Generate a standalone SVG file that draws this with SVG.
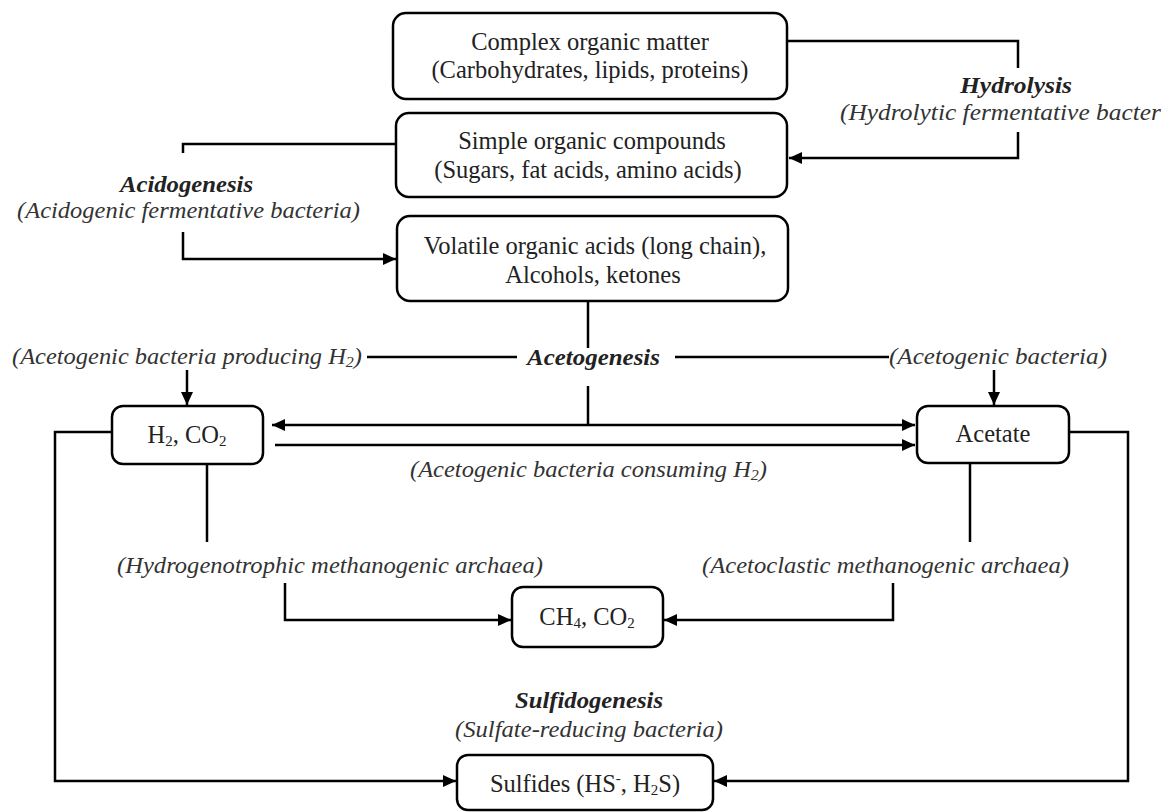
<svg xmlns="http://www.w3.org/2000/svg" width="1161" height="812" viewBox="0 0 1161 812">
<style>
.box{fill:#fff;stroke:#000;stroke-width:2.5}
.bt{font-family:"Liberation Serif","Times New Roman",serif;font-size:24.5px;fill:#222;text-anchor:middle}
.lb{font-family:"Liberation Serif","Times New Roman",serif;font-style:italic;font-size:23px;fill:#333}
.lbb{font-family:"Liberation Serif","Times New Roman",serif;font-style:italic;font-weight:bold;font-size:23px;fill:#222}
.sub{font-size:15px}
.ln{fill:none;stroke:#000;stroke-width:2.5}
.ar{marker-end:url(#ah)}
</style>
<defs>
<marker id="ah" markerUnits="userSpaceOnUse" markerWidth="14" markerHeight="12" refX="13" refY="6" orient="auto-start-reverse">
<path d="M0,0 L13,6 L0,12 z" fill="#000"/>
</marker>
</defs>
<g id="connectors">
<path class="ln" d="M787,41 H1018 V68"/>
<path class="ln ar" d="M1018,132 V158 H789"/>
<path class="ln" d="M396,144 H183 V153"/>
<path class="ln ar" d="M183,232 V259 H396"/>
<path class="ln" d="M588,301 V348"/>
<path class="ln" d="M588,386 V425"/>
<path class="ln" d="M367,357 H517"/>
<path class="ln" d="M675,357 H889"/>
<path class="ln ar" d="M187,370 V405"/>
<path class="ln ar" d="M994,370 V405"/>
<path class="ln ar" d="M272,425 H915" style="marker-start:url(#ah)"/>
<path class="ln ar" d="M275,445 H915"/>
<path class="ln" d="M207,464 V542"/>
<path class="ln ar" d="M285,583 V620 H511"/>
<path class="ln" d="M970,463 V542"/>
<path class="ln ar" d="M893,583 V620 H664"/>
<path class="ln ar" d="M112,432 H55 V781 H456"/>
<path class="ln ar" d="M1069,432 H1128 V781 H714"/>
</g>
<g id="n-complex">
<rect class="box" x="393" y="13" width="394" height="86" rx="13"/>
<text class="bt" x="590" y="50">Complex organic matter</text>
<text class="bt" x="590" y="78">(Carbohydrates, lipids, proteins)</text>
</g>
<g id="n-simple">
<rect class="box" x="396" y="113" width="391" height="84" rx="13"/>
<text class="bt" x="592" y="149">Simple organic compounds</text>
<text class="bt" x="588" y="178">(Sugars, fat acids, amino acids)</text>
</g>
<g id="n-volatile">
<rect class="box" x="397" y="216" width="391" height="85" rx="13"/>
<text class="bt" x="595" y="254">Volatile organic acids (long chain),</text>
<text class="bt" x="593" y="283">Alcohols, ketones</text>
</g>
<g id="n-h2">
<rect class="box" x="112" y="406" width="151" height="58" rx="11"/>
<text class="bt" x="187" y="443">H<tspan class="sub" dy="3">2</tspan><tspan dy="-3">, CO</tspan><tspan class="sub" dy="3">2</tspan></text>
</g>
<g id="n-acetate">
<rect class="box" x="917" y="406" width="152" height="57" rx="11"/>
<text class="bt" x="993" y="442">Acetate</text>
</g>
<g id="n-ch4">
<rect class="box" x="512" y="587" width="151" height="60" rx="11"/>
<text class="bt" x="587" y="625">CH<tspan class="sub" dy="3">4</tspan><tspan dy="-3">, CO</tspan><tspan class="sub" dy="3">2</tspan></text>
</g>
<g id="n-sulfides">
<rect class="box" x="457" y="755" width="256" height="55" rx="11"/>
<text class="bt" x="585" y="792">Sulfides (HS<tspan class="sub" dy="-9">-</tspan><tspan dy="9">, H</tspan><tspan class="sub" dy="3">2</tspan><tspan dy="-3">S)</tspan></text>
</g>
<g id="labels">
<text class="lbb" x="960" y="93" textLength="112" lengthAdjust="spacingAndGlyphs">Hydrolysis</text>
<text class="lb" x="840" y="120" textLength="321" lengthAdjust="spacingAndGlyphs">(Hydrolytic fermentative bacter</text>
<text class="lbb" x="120" y="192" textLength="133" lengthAdjust="spacingAndGlyphs">Acidogenesis</text>
<text class="lb" x="17" y="218" textLength="343" lengthAdjust="spacingAndGlyphs">(Acidogenic fermentative bacteria)</text>
<text class="lb" x="12" y="364" textLength="350" lengthAdjust="spacingAndGlyphs">(Acetogenic bacteria producing H<tspan class="sub" dy="3">2</tspan><tspan dy="-3">)</tspan></text>
<text class="lbb" x="527" y="365" textLength="133" lengthAdjust="spacingAndGlyphs">Acetogenesis</text>
<text class="lb" x="889" y="364" textLength="218" lengthAdjust="spacingAndGlyphs">(Acetogenic bacteria)</text>
<text class="lb" x="410" y="477" textLength="357" lengthAdjust="spacingAndGlyphs">(Acetogenic bacteria consuming H<tspan class="sub" dy="3">2</tspan><tspan dy="-3">)</tspan></text>
<text class="lb" x="117" y="573" textLength="426" lengthAdjust="spacingAndGlyphs">(Hydrogenotrophic methanogenic archaea)</text>
<text class="lb" x="702" y="573" textLength="367" lengthAdjust="spacingAndGlyphs">(Acetoclastic methanogenic archaea)</text>
<text class="lbb" x="515" y="708" textLength="148" lengthAdjust="spacingAndGlyphs">Sulfidogenesis</text>
<text class="lb" x="455" y="737" textLength="268" lengthAdjust="spacingAndGlyphs">(Sulfate-reducing bacteria)</text>
</g>
</svg>
